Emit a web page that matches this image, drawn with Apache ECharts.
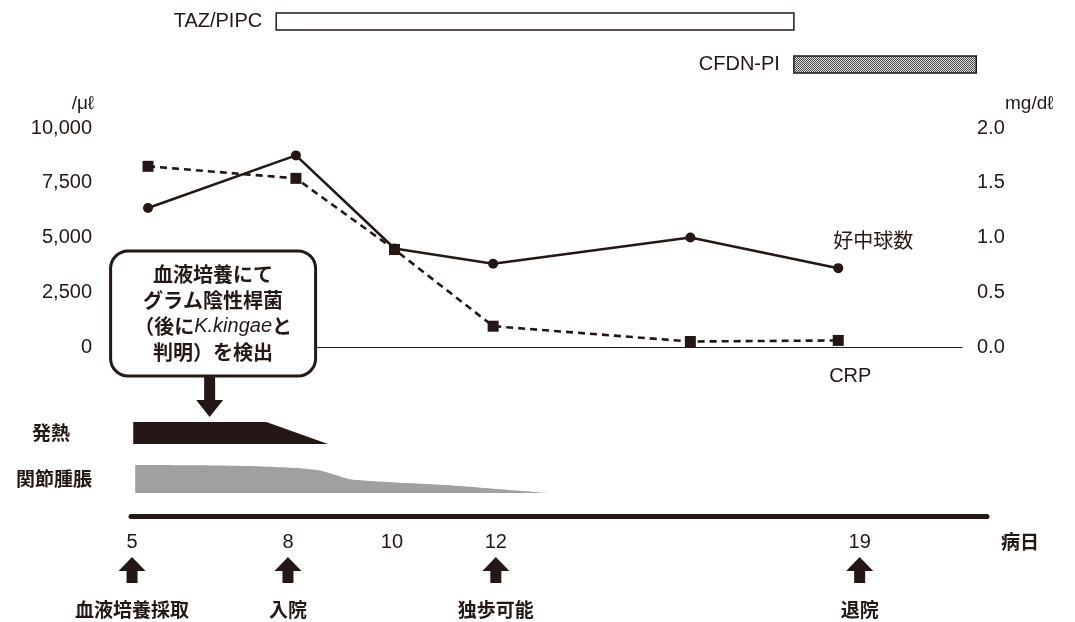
<!DOCTYPE html>
<html>
<head>
<meta charset="utf-8">
<title>経過表</title>
<script src="https://cdn.jsdelivr.net/npm/echarts@6/dist/echarts.min.js"></script>
<style>
html, body { margin: 0; padding: 0; background: #fff; }
#main { width: 1075px; height: 622px; }
</style>
</head>
<body>
<div id="main"></div>
<script>
// 病日ごとの検査値
var days = [5, 8, 10, 12, 16, 19];
var neutrophil = [6350, 8750, 4500, 3800, 5000, 3600];   // /μℓ
var crp = [1.65, 1.54, 0.89, 0.19, 0.05, 0.06];         // mg/dℓ

var leftTicks = [0, 2500, 5000, 7500, 10000];
var rightTicks = [0, 0.5, 1.0, 1.5, 2.0];

// 抗菌薬の投与期間（病日）
var drugNames = ['TAZ/PIPC', 'CFDN-PI'];
var drugStart = [7.6, 18.1];
var drugEnd = [18.1, 21.8];

// 発熱
var feverDays = [4.7, 7.4, 8.65];
var feverLevel = [1, 1, 0];

// 関節腫脹
var swellDays = [4.74, 6.05, 7.07, 8.08, 8.49, 8.75, 9.10, 9.44, 10.11, 10.78, 11.47, 12.14, 12.81, 13.15];
var swellLevel = [100, 99, 96, 88, 80, 67, 49, 44, 37, 31, 23, 13, 4, 0];

// 下の時間軸
var dayTicks = [5, 8, 10, 12, 19];
var eventDays = [5, 8, 12, 19];
var eventNames = ['血液培養採取', '入院', '独歩可能', '退院'];

var ink = '#231815';
var NUM = '"Liberation Sans", Arial, sans-serif';
var JP = '"Noto Sans CJK JP", sans-serif';

// 網掛け
var pat = document.createElement('canvas');
pat.width = 2; pat.height = 2;
var pc = pat.getContext('2d');
pc.fillStyle = '#e0e0e0'; pc.fillRect(0, 0, 2, 2);
pc.fillStyle = '#4a4a4a'; pc.fillRect(0, 0, 1, 1); pc.fillRect(1, 1, 1, 1);

var chart = echarts.init(document.getElementById('main'));

var dayMin = 4.675, dayMax = 21.51;
function hiddenX(grid) {
    return { type: 'value', gridIndex: grid, min: dayMin, max: dayMax, show: false };
}

var option = {
    animation: false,
    backgroundColor: '#fff',
    grid: [
        { left: 132, right: 113, top: 128, height: 219, outerBoundsMode: 'none' },
        { left: 132, right: 113, top: 0, height: 86, outerBoundsMode: 'none' },
        { left: 132, right: 113, top: 422, height: 22, outerBoundsMode: 'none' },
        { left: 132, right: 113, top: 465, height: 28, outerBoundsMode: 'none' },
        { left: 131, right: 88, top: 516, height: 100, outerBoundsMode: 'none' }
    ],
    xAxis: [
        {
            type: 'value', gridIndex: 0, min: dayMin, max: dayMax,
            axisLine: { show: true, lineStyle: { color: ink, width: 1.2 } },
            axisTick: { show: false }, axisLabel: { show: false }, splitLine: { show: false }
        },
        hiddenX(1),
        hiddenX(2),
        hiddenX(3),
        {
            type: 'value', gridIndex: 4, min: 4.98, max: 21.45, position: 'top',
            axisLine: { show: true, lineStyle: { color: ink, width: 5 } },
            axisTick: { show: false }, splitLine: { show: false },
            axisLabel: {
                customValues: dayTicks, inside: true, margin: 16,
                color: ink, fontSize: 20, fontFamily: NUM
            },
            name: '病日', nameLocation: 'end', nameGap: 14,
            nameTextStyle: { color: ink, fontSize: 19, fontFamily: JP, fontWeight: 'bold', verticalAlign: 'top', padding: [16, 0, 0, 0] }
        }
    ],
    yAxis: [
        {
            type: 'value', gridIndex: 0, min: 0, max: 10000, interval: 2500,
            axisLine: { show: false }, axisTick: { show: false }, splitLine: { show: false },
            axisLabel: {
                customValues: leftTicks, margin: 40, color: ink, fontSize: 20, fontFamily: NUM,
                formatter: function (v) { return v.toLocaleString('en-US'); }
            },
            name: '/μℓ', nameLocation: 'end', nameGap: 15,
            nameTextStyle: { color: ink, fontSize: 19, fontFamily: NUM, align: 'right', padding: [0, 38, 0, 0] }
        },
        {
            type: 'value', gridIndex: 0, min: 0, max: 2, interval: 0.5, position: 'right',
            axisLine: { show: false }, axisTick: { show: false }, splitLine: { show: false },
            axisLabel: {
                customValues: rightTicks, margin: 15, color: ink, fontSize: 20, fontFamily: NUM,
                formatter: function (v) { return v.toFixed(1); }
            },
            name: 'mg/dℓ', nameLocation: 'end', nameGap: 15,
            nameTextStyle: { color: ink, fontSize: 19, fontFamily: NUM, align: 'left', padding: [0, 0, 0, 43] }
        },
        { type: 'category', gridIndex: 1, data: drugNames, inverse: true, show: false },
        {
            type: 'value', gridIndex: 2, min: 0, max: 1,
            axisLine: { show: false }, axisTick: { show: false }, axisLabel: { show: false }, splitLine: { show: false },
            name: '発熱', nameLocation: 'middle', nameRotate: 0, nameGap: 62,
            nameTextStyle: { color: ink, fontSize: 19, fontFamily: JP, fontWeight: 'bold' }
        },
        {
            type: 'value', gridIndex: 3, min: 0, max: 100,
            axisLine: { show: false }, axisTick: { show: false }, axisLabel: { show: false }, splitLine: { show: false },
            name: '関節腫脹', nameLocation: 'middle', nameRotate: 0, nameGap: 40,
            nameTextStyle: { color: ink, fontSize: 19, fontFamily: JP, fontWeight: 'bold' }
        },
        { type: 'value', gridIndex: 4, min: 0, max: 100, inverse: true, show: false }
    ],
    series: [
        {
            name: 'CRP', type: 'line', xAxisIndex: 0, yAxisIndex: 1,
            data: days.map(function (d, i) {
                var item = { value: [d, crp[i]] };
                if (i === days.length - 1) {
                    item.label = {
                        show: true, position: 'inside', offset: [12, 36], formatter: 'CRP',
                        color: ink, fontSize: 20, fontFamily: NUM
                    };
                }
                return item;
            }),
            symbol: 'rect', symbolSize: 11,
            lineStyle: { color: ink, width: 2.6, type: [7, 5] },
            itemStyle: { color: ink }
        },
        {
            name: '好中球数', type: 'line', xAxisIndex: 0, yAxisIndex: 0,
            data: days.map(function (d, i) {
                var item = { value: [d, neutrophil[i]] };
                if (i === days.length - 1) {
                    item.label = {
                        show: true, position: 'inside', offset: [35, -28], formatter: '好中球数',
                        color: ink, fontSize: 20, fontFamily: JP
                    };
                }
                return item;
            }),
            symbol: 'circle', symbolSize: 10,
            lineStyle: { color: ink, width: 2.6 },
            itemStyle: { color: ink }
        },
        {
            // 血液培養の吹き出し
            type: 'scatter', xAxisIndex: 0, yAxisIndex: 0, clip: false, z: 10,
            data: [[6.32, 1530]],
            symbol: 'rect', symbolSize: 1, itemStyle: { color: 'rgba(0,0,0,0)', opacity: 1 },
            label: {
                show: true, position: 'inside',
                formatter: '{a|血液培養にて}\n{a|グラム陰性桿菌}\n{a|（後に}{i|K.kingae}{a|と}\n{a|判明）を検出}',
                backgroundColor: '#fff', borderColor: ink, borderWidth: 3, borderRadius: 16,
                width: 190, padding: [9, 6, 9, 6], align: 'center',
                rich: {
                    a: { color: ink, fontSize: 20, lineHeight: 26, fontFamily: JP, fontWeight: 'bold' },
                    i: { color: ink, fontSize: 20, lineHeight: 26, fontFamily: NUM, fontStyle: 'italic' }
                }
            }
        },
        {
            type: 'scatter', xAxisIndex: 0, yAxisIndex: 0, clip: false, z: 9,
            data: [[6.25, -2260]],
            symbol: 'path://M8,0 L19,0 L19,24 L27,24 L13.5,41 L0,24 L8,24 Z',
            symbolSize: [27, 41],
            itemStyle: { color: ink, opacity: 1 }
        },
        {
            type: 'custom', xAxisIndex: 1, yAxisIndex: 2,
            data: drugNames.map(function (n, i) { return [drugStart[i], drugEnd[i], i]; }),
            renderItem: function (params, api) {
                var a = api.coord([api.value(0), api.value(2)]);
                var b = api.coord([api.value(1), api.value(2)]);
                var i = params.dataIndex;
                var h = 17;
                return {
                    type: 'group',
                    children: [{
                        type: 'rect',
                        shape: { x: a[0], y: a[1] - h / 2, width: b[0] - a[0], height: h },
                        style: {
                            fill: i === 0 ? '#fff' : { image: pat, repeat: 'repeat' },
                            stroke: ink, lineWidth: 1.5
                        }
                    }, {
                        type: 'text',
                        style: {
                            text: drugNames[i], x: a[0] - 14, y: a[1],
                            align: 'right', verticalAlign: 'middle',
                            fontSize: 20, fontFamily: NUM, fill: ink
                        }
                    }]
                };
            }
        },
        {
            name: '発熱', type: 'line', xAxisIndex: 2, yAxisIndex: 3,
            data: feverDays.map(function (d, i) { return [d, feverLevel[i]]; }),
            symbol: 'none', lineStyle: { width: 0 },
            areaStyle: { color: ink, opacity: 1 }
        },
        {
            name: '関節腫脹', type: 'line', xAxisIndex: 3, yAxisIndex: 4,
            data: swellDays.map(function (d, i) { return [d, swellLevel[i]]; }),
            symbol: 'none', smooth: 0.2, lineStyle: { width: 0 },
            areaStyle: { color: '#a0a0a0', opacity: 1 }
        },
        {
            type: 'scatter', xAxisIndex: 4, yAxisIndex: 5, clip: false,
            data: eventDays.map(function (d) { return [d, 54]; }),
            symbol: 'path://M13.5,0 L27,14 L19,14 L19,26 L8,26 L8,14 L0,14 Z',
            symbolSize: [27, 26],
            itemStyle: { color: ink, opacity: 1 },
            label: {
                show: true, position: 'bottom', distance: 17,
                formatter: function (p) { return eventNames[p.dataIndex]; },
                color: ink, fontSize: 19, fontFamily: JP, fontWeight: 'bold'
            }
        }
    ]
};
chart.setOption(option);
</script>
</body>
</html>
